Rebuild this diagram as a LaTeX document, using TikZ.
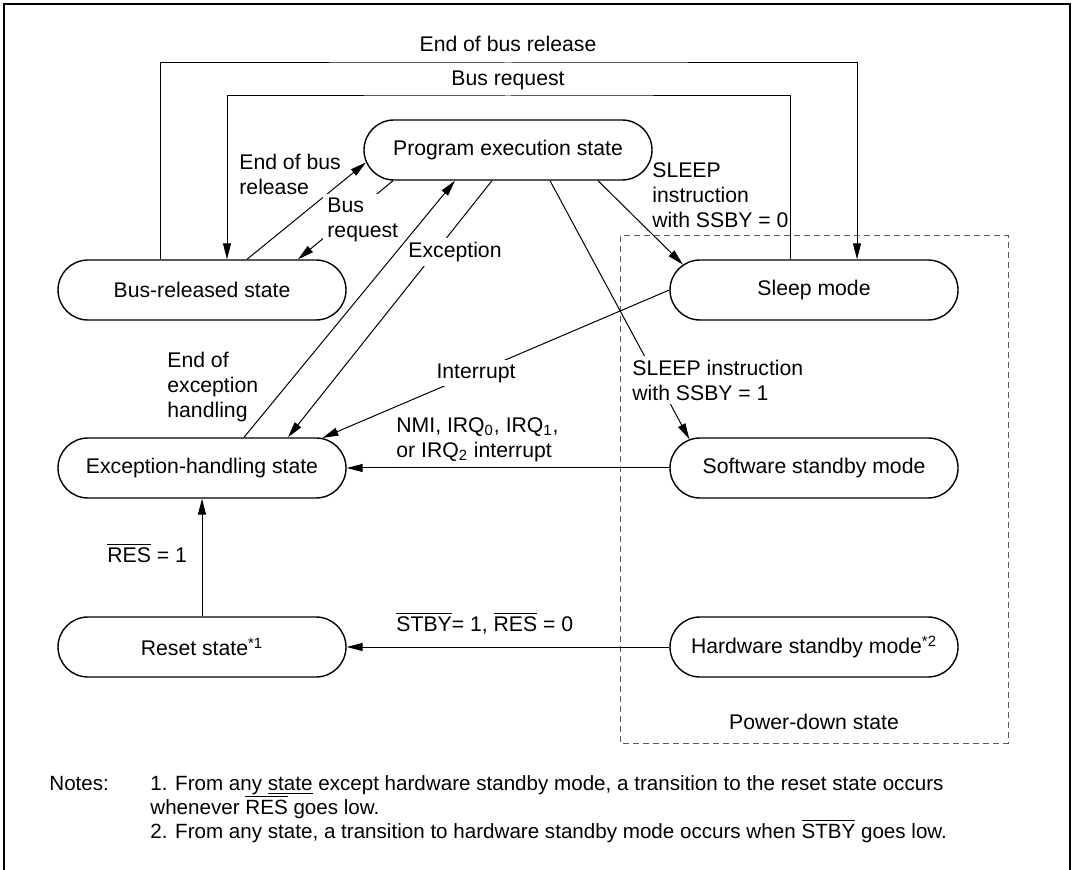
\documentclass[tikz,border=0pt]{standalone}
\usepackage{fontspec}
\setmainfont{Liberation Sans}
\usetikzlibrary{shapes.misc, arrows.meta}

\newcommand{\ovl}[1]{$\overline{\hbox{#1}}$}

\tikzset{
	stnode/.style = {rounded rectangle, draw, line width = 0.7pt,
		minimum width = 144pt, minimum height = 30pt, inner sep = 0pt},
	trans/.style = {line width = 0.5pt, -{Triangle[length = 8pt, width = 4pt]}},
	lbl/.style = {align = left, inner sep = 1pt},
	cut/.style = {align = left, inner sep = 2pt, fill = white},
	noteln/.style = {anchor = base west, inner sep = 0pt, font = \fontsize{10.3}{12}\selectfont}
}

\begin{document}
\begin{tikzpicture}[x = 0.5pt, y = -0.5pt, font = \fontsize{10.6}{12.5}\selectfont]
	\useasboundingbox (0,0) rectangle (1074,870);
	\draw[line width = 1.2pt] (4,880) -- (4,4) -- (1070,4) -- (1070,880);

	% power-down area
	\draw[dashed, dash pattern = on 3pt off 2pt, gray!70!black, line width = 0.5pt]
		(620,236) rectangle (1008,743);
	\node (pdlbl) at (814,722) {Power-down state};

	% states
	\node[stnode] (prog)   at (508,150) {Program execution state};
	\node[stnode] (busrel) at (202,290) {Bus-released state};
	\node[stnode] (sleep)  at (814,290) {Sleep mode};
	\node[stnode] (exc)    at (202,468) {Exception-handling state};
	\node[stnode] (swstby) at (814,468) {Software standby mode};
	\node[stnode] (reset)  at (202,647) {Reset state\textsuperscript{*1}};
	\node[stnode] (hwstby) at (814,647) {Hardware standby mode\textsuperscript{*2}};

	% loops over the top
	\coordinate (outer) at (508,63);
	\coordinate (inner) at (508,96);
	\draw[trans] ([xshift = -21pt]busrel.north) |- (outer) -| ([xshift = 21.5pt]sleep.north);
	\node (eobr) at (508,44) {End of bus release};
	\draw[trans] ([xshift = -12pt]sleep.north) |- (inner) -| ([xshift = 12.5pt]busrel.north);
	\node (busreq) at (508,80) {Bus request};

	% transitions
	\draw[trans] ([xshift = 22.5pt]busrel.north) -- (prog.185);
	\node[lbl, anchor = west] (eobr2) at (237,174) {End of bus\\release};
	\draw[trans] ([xshift = -57.5pt]prog.south) -- ([xshift = 48pt]busrel.north);
	\node[cut, anchor = west] (busreq2) at (323,220) {Bus\\request};
	\draw[trans] ([xshift = -8pt]prog.south) -- ([xshift = 43pt]exc.north);
	\node[cut] (excl) at (455,252) {Exception};
	\draw[trans] ([xshift = 21pt]exc.north) -- ([xshift = -26.5pt]prog.south);
	\node[lbl, anchor = west] (eoeh) at (165,387) {End of\\exception\\handling};
	\draw[trans] ([xshift = 45pt]prog.south) -- (sleep.169);
	\node[lbl, anchor = west] (ssby0) at (650,195) {SLEEP\\instruction\\with SSBY = 0};
	\draw[trans] ([xshift = 21pt]prog.south) -- (swstby.167);
	\node[cut, anchor = west] (ssby1) at (628,380) {SLEEP instruction\\with SSBY = 1};
	\draw[trans] (sleep.west) -- (exc.14);
	\node[cut] (intr) at (476,373) {Interrupt};
	\draw[trans] (swstby.west) -- (exc.east);
	\node[lbl, anchor = west] (nmi) at (394,440)
		{NMI, IRQ\textsubscript{0}, IRQ\textsubscript{1},\\or IRQ\textsubscript{2} interrupt};
	\draw[trans] (reset.north) -- (exc.south);
	\node[lbl, anchor = west] (res1) at (105,553) {\ovl{RES} = 1};
	\draw[trans] (hwstby.west) -- (reset.east);
	\node[lbl, anchor = west] (stby1) at (394,623) {\ovl{STBY}= 1, \ovl{RES} = 0};

	% notes
	\node[noteln] (notehd) at (49,790) {Notes:};
	\node[noteln] (note1)  at (150,790)
		{1. From any \underline{state} except hardware standby mode, a transition to the reset state occurs};
	\node[noteln] (note1b) at (150,814) {whenever \ovl{RES} goes low.};
	\node[noteln] (note2)  at (150,838)
		{2. From any state, a transition to hardware standby mode occurs when \ovl{STBY} goes low.};
\end{tikzpicture}
\end{document}
